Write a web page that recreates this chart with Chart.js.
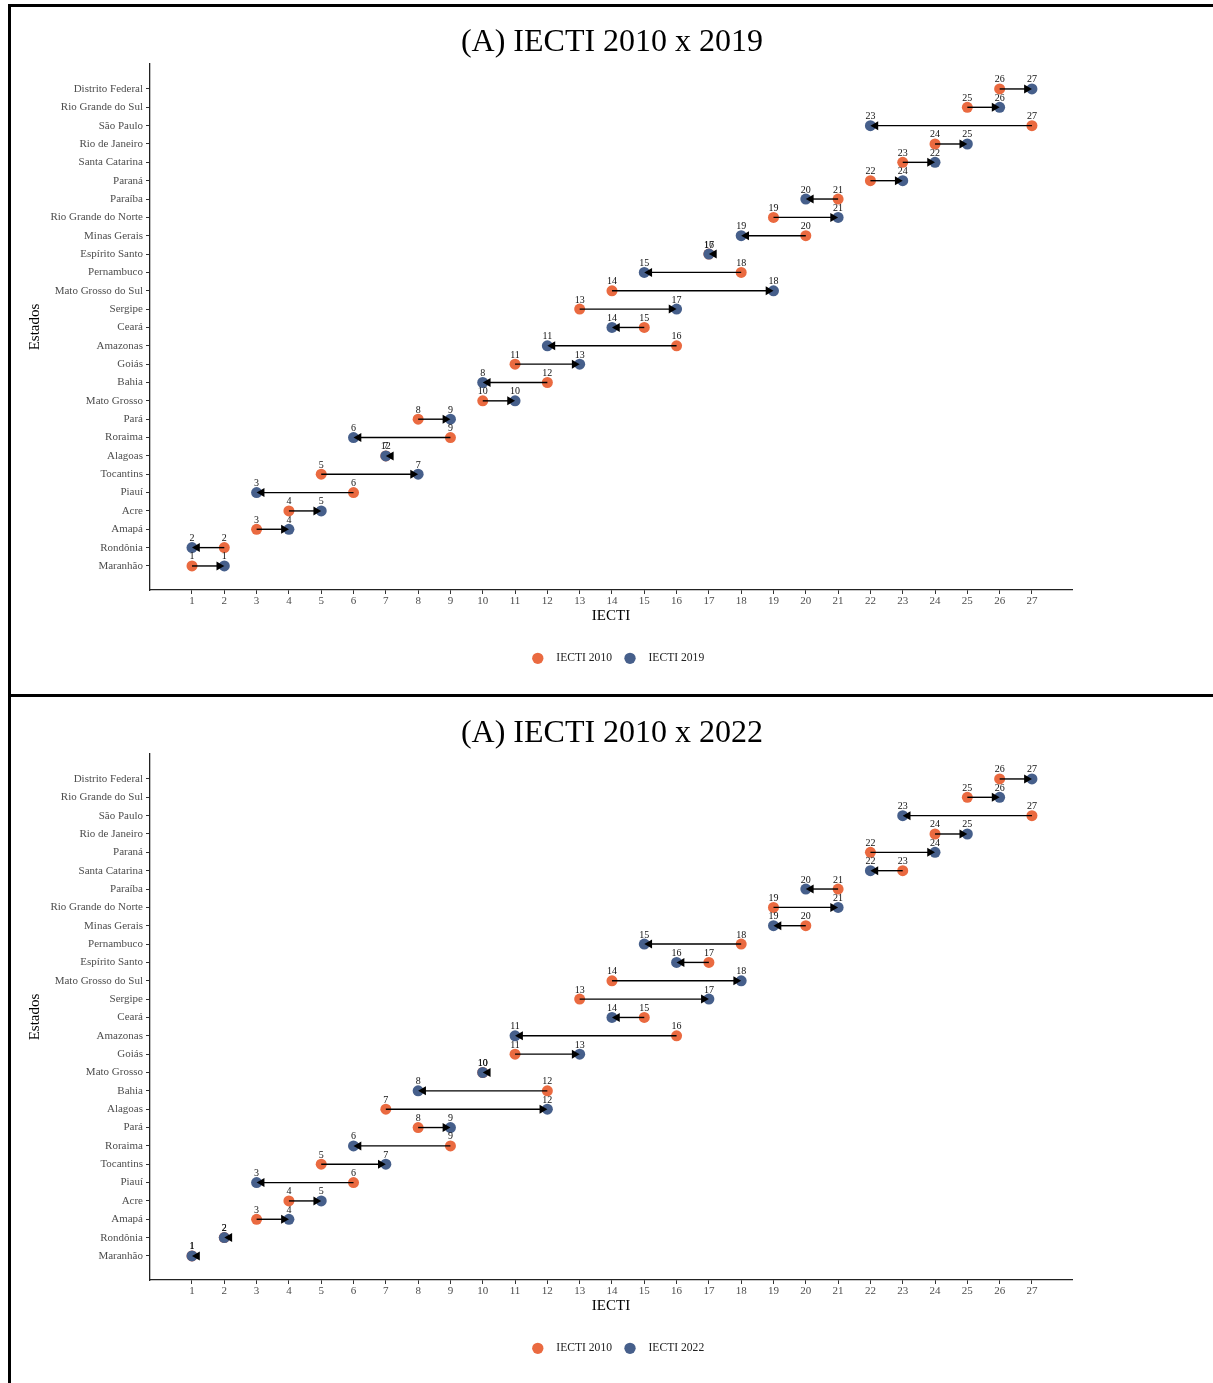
<!DOCTYPE html>
<html><head><meta charset="utf-8">
<script src="https://cdn.jsdelivr.net/npm/chart.js@4.4.1/dist/chart.umd.min.js"></script>
<style>
html,body{margin:0;padding:0;background:#fff;overflow:hidden;width:1213px;height:1383px;}
.wrap{position:absolute;left:11px;width:1202px;height:686px;}
.line{position:absolute;background:#000;}
</style></head><body>
<div class="line" style="left:8px;top:4px;width:1205px;height:3px"></div>
<div class="line" style="left:8px;top:4px;width:3px;height:1379px"></div>
<div class="line" style="left:8px;top:694px;width:1205px;height:3px"></div>
<div class="wrap" style="top:9px"><canvas id="c1"></canvas></div>
<div class="wrap" style="top:699px"><canvas id="c2"></canvas></div>
<script>
// ---------- DATA (bottom row first) ----------
const xTicks = [1,2,3,4,5,6,7,8,9,10,11,12,13,14,15,16,17,18,19,20,21,22,23,24,25,26,27];

// Panel 1: IECTI 2010 x 2019
const states1 = ["Maranhão","Rondônia","Amapá","Acre","Piauí","Tocantins","Alagoas","Roraima","Pará","Mato Grosso","Bahia","Goiás","Amazonas","Ceará","Sergipe","Mato Grosso do Sul","Pernambuco","Espírito Santo","Minas Gerais","Rio Grande do Norte","Paraíba","Paraná","Santa Catarina","Rio de Janeiro","São Paulo","Rio Grande do Sul","Distrito Federal"];
const iecti2010_p1 = [1,2,3,4,6,5,7,9,8,10,12,11,16,15,13,14,18,17,20,19,21,22,23,24,27,25,26];
const iecti2019_p1 = [2,1,4,5,3,8,7,6,9,11,10,13,12,14,16,19,15,17,18,21,20,23,24,25,22,26,27];
const label2010_p1 = [1,2,3,4,6,5,7,9,8,10,12,11,16,15,13,14,18,17,20,19,21,22,23,24,27,25,26];
const label2019_p1 = [1,2,4,5,3,7,12,6,9,10,8,13,11,14,17,18,15,16,19,21,20,24,22,25,23,26,27];

// Panel 2: IECTI 2010 x 2022
const states2 = ["Maranhão","Rondônia","Amapá","Acre","Piauí","Tocantins","Roraima","Pará","Alagoas","Bahia","Mato Grosso","Goiás","Amazonas","Ceará","Sergipe","Mato Grosso do Sul","Espírito Santo","Pernambuco","Minas Gerais","Rio Grande do Norte","Paraíba","Santa Catarina","Paraná","Rio de Janeiro","São Paulo","Rio Grande do Sul","Distrito Federal"];
const iecti2010_p2 = [1,2,3,4,6,5,9,8,7,12,10,11,16,15,13,14,17,18,20,19,21,23,22,24,27,25,26];
const iecti2022_p2 = [1,2,4,5,3,7,6,9,12,8,10,13,11,14,17,18,16,15,19,21,20,22,24,25,23,26,27];
const label2010_p2 = [1,2,3,4,6,5,9,8,7,12,10,11,16,15,13,14,17,18,20,19,21,23,22,24,27,25,26];
const label2022_p2 = [1,2,4,5,3,7,6,9,12,8,10,13,11,14,17,18,16,15,19,21,20,22,24,25,23,26,27];

const ORANGE = '#EA6A40';
const BLUE = '#465F8B';
const FONT = "'Liberation Serif','Times New Roman',serif";
Chart.defaults.font.family = FONT;

const legendShift = {
  id: 'legendShift',
  afterLayout(chart) {
    const l = chart.legend;
    if (l) { l.left += 7; l.right += 7; }
  }
};

function dumbbellPlugin(from, to, labFrom, labTo) {
  return {
    id: 'dumbbell',
    afterDatasetsDraw(chart) {
      const ctx = chart.ctx, x = chart.scales.x, y = chart.scales.y;
      ctx.save();
      ctx.strokeStyle = '#000'; ctx.fillStyle = '#000'; ctx.lineWidth = 1.4;
      for (let i = 0; i < from.length; i++) {
        const py = y.getPixelForValue(i);
        const x0 = x.getPixelForValue(from[i]);
        const x1 = x.getPixelForValue(to[i]);
        const dir = to[i] > from[i] ? 1 : -1;
        const L = 7.8, H = 4.5;
        if (to[i] !== from[i]) {
          ctx.beginPath(); ctx.moveTo(x0, py); ctx.lineTo(x1 - dir * L * 0.5, py); ctx.stroke();
        }
        ctx.beginPath();
        ctx.moveTo(x1, py);
        ctx.lineTo(x1 - dir * L, py - H);
        ctx.lineTo(x1 - dir * L, py + H);
        ctx.closePath(); ctx.fill();
      }
      ctx.font = "10px " + FONT; ctx.fillStyle = '#111';
      ctx.textAlign = 'center'; ctx.textBaseline = 'alphabetic';
      for (let i = 0; i < from.length; i++) {
        const py = y.getPixelForValue(i);
        ctx.fillText(String(labFrom[i]), x.getPixelForValue(from[i]), py - 6.5);
        ctx.fillText(String(labTo[i]), x.getPixelForValue(to[i]), py - 6.5);
      }
      ctx.restore();
    }
  };
}

function makeChart(id, title, titlePad, states, from, to, labFrom, labTo, nameFrom, nameTo) {
  const ptsFrom = from.map((v, i) => ({x: v, y: i}));
  const ptsTo = to.map((v, i) => ({x: v, y: i}));
  return new Chart(document.getElementById(id), {
    type: 'scatter',
    data: {
      datasets: [
        {label: nameFrom, data: ptsFrom, order: 2, backgroundColor: ORANGE, borderColor: ORANGE, borderWidth: 0, pointRadius: 5.5, pointStyle: 'circle'},
        {label: nameTo, data: ptsTo, order: 1, backgroundColor: BLUE, borderColor: BLUE, borderWidth: 0, pointRadius: 5.5, pointStyle: 'circle'}
      ]
    },
    options: {
      responsive: true, maintainAspectRatio: false, animation: false, events: [],
      layout: {padding: {left: 0, right: 0, top: 0, bottom: 20.9}},
      plugins: {
        tooltip: {enabled: false},
        title: {display: true, text: title, color: '#000',
          font: {family: FONT, size: 32, weight: 'normal'}, padding: {top: titlePad, bottom: 16.6 - titlePad}},
        legend: {position: 'bottom',
          labels: {usePointStyle: true, boxWidth: 8, boxHeight: 8, padding: 14, color: '#222',
            font: {family: FONT, size: 11.6},
            sort: (a, b) => a.datasetIndex - b.datasetIndex,
            generateLabels(chart) {
              const items = Chart.defaults.plugins.legend.labels.generateLabels(chart);
              items.forEach(it => { it.text = '   ' + it.text; it.lineWidth = 0; });
              return items;
            }}}
      },
      scales: {
        x: {type: 'linear', position: 'bottom', min: -0.3, max: 28.24,
          afterBuildTicks: ax => { ax.ticks = xTicks.map(v => ({value: v})); },
          afterFit: ax => { ax.height = 48.5; },
          grid: {display: true, drawOnChartArea: false, drawTicks: true, tickLength: 4, color: '#333', lineWidth: 1},
          border: {display: true, color: '#222', width: 1.3},
          ticks: {autoSkip: false, maxRotation: 0, padding: 1, color: '#4d4d4d', font: {family: FONT, size: 11}},
          title: {display: true, text: 'IECTI', color: '#000', font: {family: FONT, size: 15}, padding: {top: 0, bottom: 13}}
        },
        y: {type: 'linear', position: 'left', min: -1.31, max: 27.36,
          afterBuildTicks: ax => { ax.ticks = states.map((s, i) => ({value: i})); },
          afterFit: ax => { ax.width = 139; },
          grid: {display: true, drawOnChartArea: false, drawTicks: true, tickLength: 4, color: '#333', lineWidth: 1},
          border: {display: true, color: '#222', width: 1.3},
          ticks: {autoSkip: false, padding: 3, color: '#4d4d4d', font: {family: FONT, size: 11},
            callback: v => states[v]},
          title: {display: true, text: 'Estados', color: '#000', font: {family: FONT, size: 15}, padding: {top: 15, bottom: 0}}
        },
        yR: {type: 'linear', position: 'right', display: true, min: 0, max: 1,
          afterFit: ax => { ax.width = 141; },
          grid: {display: false}, border: {display: false}, ticks: {display: false}, title: {display: false}}
      }
    },
    plugins: [dumbbellPlugin(from, to, labFrom, labTo), legendShift]
  });
}

makeChart('c1', '(A) IECTI 2010 x 2019', 14.8, states1, iecti2010_p1, iecti2019_p1, label2010_p1, label2019_p1, 'IECTI 2010', 'IECTI 2019');
makeChart('c2', '(A) IECTI 2010 x 2022', 15.8, states2, iecti2010_p2, iecti2022_p2, label2010_p2, label2022_p2, 'IECTI 2010', 'IECTI 2022');
</script>
</body></html>
